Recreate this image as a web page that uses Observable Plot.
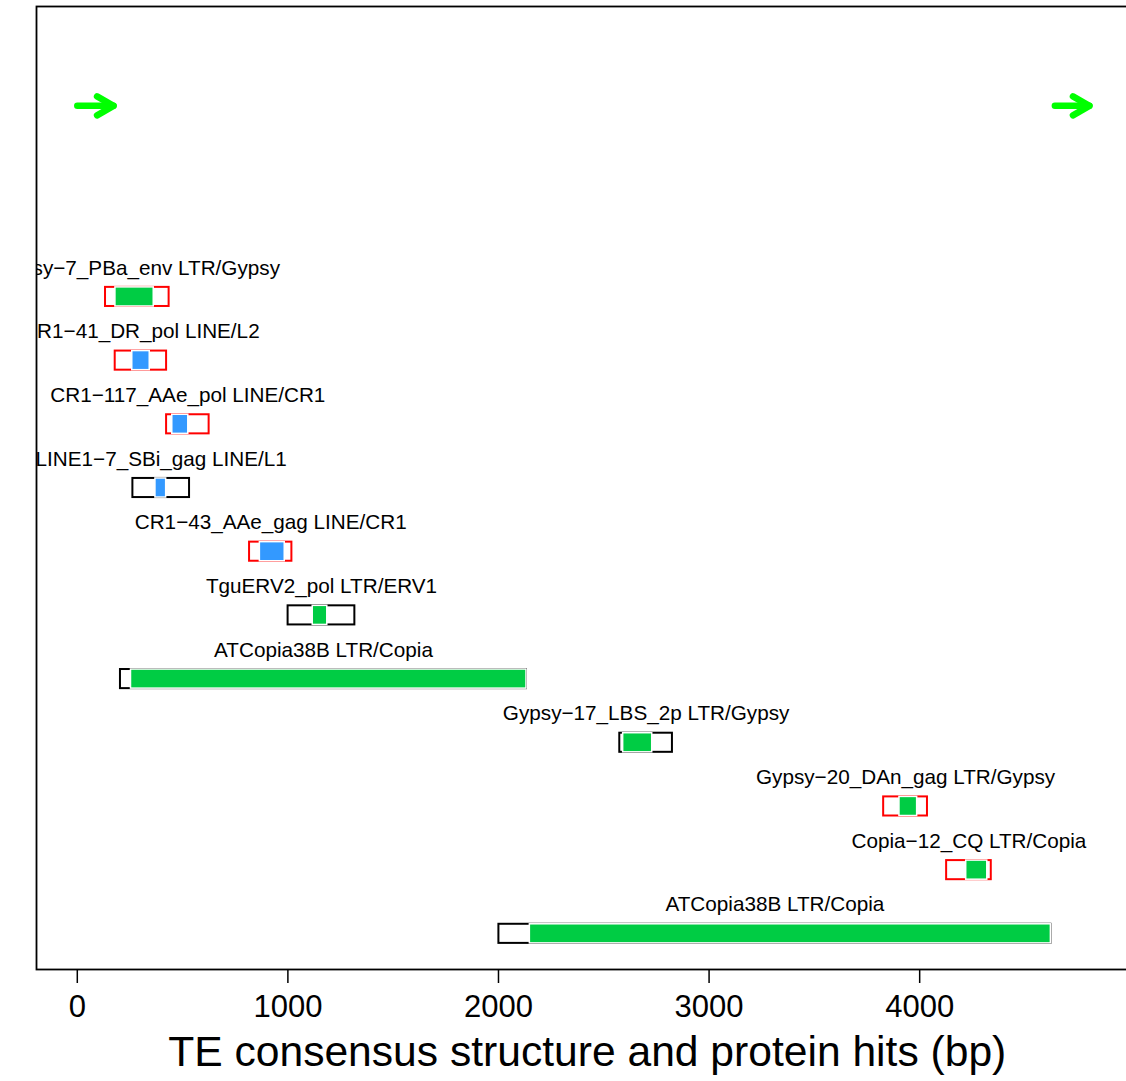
<!DOCTYPE html>
<html><head><meta charset="utf-8">
<script src="https://cdn.jsdelivr.net/npm/d3@7"></script>
<script src="https://cdn.jsdelivr.net/npm/@observablehq/plot@0.6"></script>
<style>html,body{margin:0;padding:0;background:#fff;overflow:hidden}#chart svg{overflow:hidden}</style>
</head><body><div id="chart"></div>
<script>
// ---- data ----
const proteins = ["Gypsy−7_PBa_env","CR1−41_DR_pol","CR1−117_AAe_pol","LINE1−7_SBi_gag","CR1−43_AAe_gag","TguERV2_pol","ATCopia38B","Gypsy−17_LBS_2p","Gypsy−20_DAn_gag","Copia−12_CQ","ATCopia38B"];
const teClasses = ["LTR/Gypsy","LINE/L2","LINE/CR1","LINE/L1","LINE/CR1","LTR/ERV1","LTR/Copia","LTR/Gypsy","LTR/Gypsy","LTR/Copia","LTR/Copia"];
const strands = ["-","-","-","+","-","+","+","+","-","-","+"];
const consStart = [134, 180, 424, 264, 818, 1001, 205, 2576, 3829, 4128, 2002];
const consEnd   = [436, 424, 626, 533, 1019, 1318, 2133, 2826, 4037, 4340, 4623];
const hitStart  = [181, 261, 451, 371, 867, 1118, 255, 2592, 3904, 4221, 2149];
const hitEnd    = [363, 344, 527, 422, 985, 1187, 2133, 2730, 3988, 4321, 4623];
const ltrStart = [0, 4642];
const ltrEnd   = [172, 4806];
const teLength = 4843;
const structureRow = 14;
const xTicks = [0, 1000, 2000, 3000, 4000];
const xLabel = "TE consensus structure and protein hits (bp)";

// ---- tables ----
const n = proteins.length;
const hits = proteins.map((p, i) => ({
  label: p + " " + teClasses[i],
  order: teClasses[i].split("/")[0],
  strand: strands[i],
  row: n - i,
  cs: consStart[i], ce: consEnd[i], hs: hitStart[i], he: hitEnd[i]
}));
const ltrs = ltrStart.map((s, i) => ({start: s, end: ltrEnd[i], row: structureRow}));

const half = 0.15;
const chevron = {
  draw(ctx, size) {
    const L = Math.sqrt(size / Math.PI), a = Math.PI / 6;
    ctx.moveTo(-L * Math.cos(a), -L * Math.sin(a));
    ctx.lineTo(0, 0);
    ctx.lineTo(-L * Math.cos(a), L * Math.sin(a));
  }
};
const strandColor = {"-": "#FF0000", "+": "#000000"};
const orderColor = {"LTR": "#00CC44", "LINE": "#3399FF"};

const W = 1126, H = 1081;
const plot = Plot.plot({
  width: W, height: H,
  marginLeft: 36, marginRight: -11.5, marginTop: 6, marginBottom: 112,
  style: {fontFamily: "'Liberation Sans', Arial, Helvetica, sans-serif", background: "white", color: "black"},
  x: {domain: [-0.04 * teLength, 1.04 * teLength]},
  y: {domain: [1 - 0.04 * 14, 15 + 0.04 * 14], axis: null},
  marks: [
    Plot.rect(hits, {x1: "cs", x2: "ce", y1: d => d.row - half, y2: d => d.row + half,
      fill: "none", stroke: d => strandColor[d.strand], strokeWidth: 2}),
    Plot.rect(hits, {x1: "hs", x2: "he", y1: d => d.row - half, y2: d => d.row + half,
      fill: d => orderColor[d.order], stroke: "white", strokeWidth: 1.5}),
    Plot.text(hits, {x: d => (d.cs + d.ce) / 2, y: "row", text: "label", dy: -29,
      fontSize: 20.7, fill: "black", lineAnchor: "middle", textAnchor: "middle", clip: true}),
    Plot.link(ltrs, {x1: "start", x2: "end", y1: "row", y2: "row", stroke: "#00FF00",
      strokeWidth: 6.5, strokeLinecap: "round"}),
    Plot.dot(ltrs, {x: "end", y: "row", symbol: chevron, r: 19, fill: "none", stroke: "#00FF00",
      strokeWidth: 6.5, strokeLinecap: "round", strokeLinejoin: "round"}),
    Plot.frame({stroke: "black", strokeWidth: 1.8}),
    Plot.axisX(xTicks, {tickSize: 14, tickPadding: 11, fontSize: 31, tickFormat: "d",
      strokeWidth: 1.5, label: null}),
    Plot.text([xLabel], {frameAnchor: "bottom", dy: 83, fontSize: 42.6, lineAnchor: "middle", fill: "black"})
  ]
});
document.getElementById("chart").appendChild(plot);
</script>
</body></html>
